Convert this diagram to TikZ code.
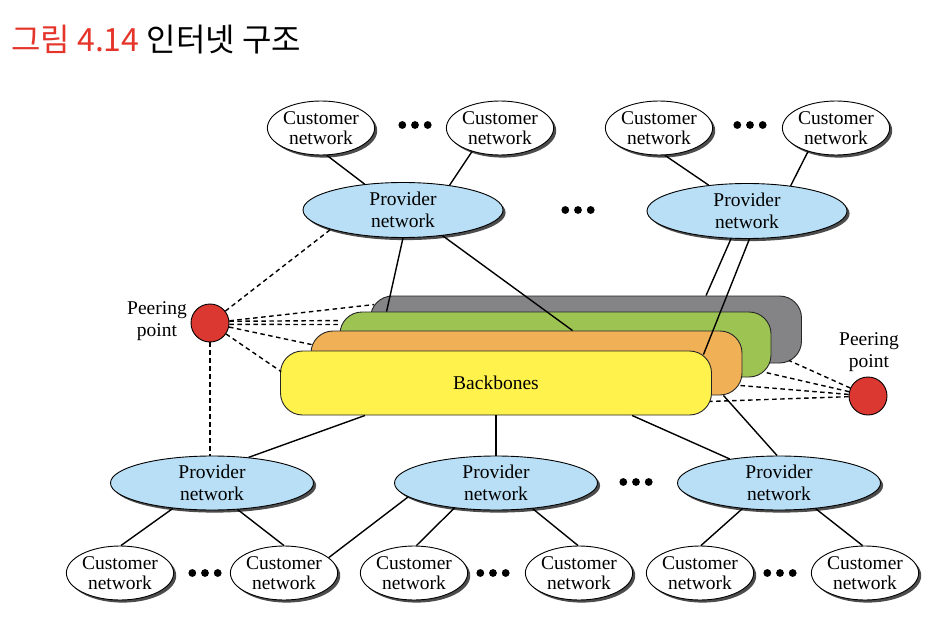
\documentclass[tikz,border=0pt]{standalone}
\usepackage{fontspec}
\setmainfont{Liberation Serif}
\newfontfamily\cjk{Noto Sans CJK KR}
\usetikzlibrary{shapes.geometric,shadows,calc}
\definecolor{provblue}{HTML}{B8DFF6}
\definecolor{bbgray}{HTML}{848486}
\definecolor{bbgreen}{HTML}{9DC453}
\definecolor{bborange}{HTML}{F0B156}
\definecolor{bbyellow}{HTML}{FFF24D}
\definecolor{peerred}{HTML}{DC3832}
\definecolor{titlered}{HTML}{E5352A}
\begin{document}
\begin{tikzpicture}[x=1pt,y=-1pt,
  netshadow/.style={drop shadow={shadow xshift=2.6pt,shadow yshift=-2.6pt,fill=black!70,opacity=1}},
  cust/.style={ellipse,draw=black,line width=0.9pt,fill=white,minimum width=105pt,minimum height=54pt,
    inner sep=0pt,align=center,font=\fontsize{19.5}{20}\selectfont,netshadow},
  prov/.style={ellipse,draw=black,line width=0.9pt,fill=provblue,minimum width=200pt,minimum height=55pt,
    inner sep=0pt,align=center,font=\fontsize{19.5}{22}\selectfont,netshadow},
  bb/.style={rectangle,rounded corners=22pt,draw=black!85,line width=0.9pt,minimum width=431pt,
    minimum height=64pt,inner sep=0pt,font=\fontsize{19.5}{22}\selectfont},
  peer/.style={circle,draw=black,line width=0.9pt,fill=peerred,minimum size=38pt,inner sep=0pt},
  lbl/.style={align=center,font=\fontsize{19.5}{22}\selectfont,inner sep=0pt},
  conn/.style={line width=1.4pt,black},
  pdash/.style={line width=1.4pt,black,dash pattern=on 4.5pt off 3.5pt}]
\useasboundingbox (0,0) rectangle (948,626);

% title
\node[anchor=west,inner sep=0pt,font=\cjk\fontsize{32}{32}\selectfont] (title) at (11,40)
  {\textcolor{titlered}{그림 4.14} 인터넷 구조};

% top customers and providers
\node[cust] (c1) at (321,128) {Customer\\network};
\node[cust] (c2) at (500,128) {Customer\\network};
\node[cust] (c3) at (659,128) {Customer\\network};
\node[cust] (c4) at (836,128) {Customer\\network};
\node[prov] (p1) at (403,210) {Provider\\network};
\node[prov] (p2) at (747,211) {Provider\\network};

% bottom providers and customers
\node[prov,minimum width=203pt,minimum height=54pt] (pb1) at (212,483) {Provider\\network};
\node[prov,minimum width=203pt,minimum height=54pt] (pb2) at (496,483) {Provider\\network};
\node[prov,minimum width=203pt,minimum height=54pt] (pb3) at (779,483) {Provider\\network};
\node[cust] (cb1) at (120,573) {Customer\\network};
\node[cust] (cb2) at (284,573) {Customer\\network};
\node[cust] (cb3) at (414,573) {Customer\\network};
\node[cust] (cb4) at (579,573) {Customer\\network};
\node[cust] (cb5) at (700,573) {Customer\\network};
\node[cust] (cb6) at (865,573) {Customer\\network};

% peering points
\node[peer] (pl) at (210,323) {};
\node[lbl] (pllbl) at (157,321) {Peering\\point};
\node[peer] (pr) at (868,396) {};
\node[lbl] (prlbl) at (869,352) {Peering\\point};

% dots
\foreach \cx/\cy in {415/125,750/125,578/210,636/482,205/573,493/573,780/573}{
  \foreach \d in {-12.7,0,12.7}{\fill ($(\cx,\cy)+(\d,0)$) circle (3.9pt);}
}

% top connectors
\draw[conn] (c1.-78) -- (p1.146);
\draw[conn] (c2.-140) -- (p1.28);
\draw[conn] (c3.-78) -- (p2.146);
\draw[conn] (c4.-140) -- (p2.30);
\draw[pdash] (pl) -- (p1.-165);
\draw[pdash] (pl) -- (pl |- pb1.north);

% backbones, back to front
\node[bb,fill=bbgray,minimum height=67pt] (gray) at (586,329.5) {};
\draw[conn] (p2.-120) -- ($(gray.north west)+(336,0)$);
\draw[pdash] (pl) -- ($(gray.north west)+(4,9)$);
\draw[pdash] (pr) -- ($(gray.south east)+(-13,-3)$);

\node[bb,fill=bbgreen,minimum height=65pt] (green) at (555.5,344.5) {};
\draw[conn] (p1.-90) -- ($(green.north west)+(47,0)$);
\draw[pdash] (pl.5) -- ($(green.north west)+(1,9)$);
\draw[pdash] (pl.-4) -- ($(green.north west)+(0,13)$);
\draw[pdash] (pr) -- ($(green.south east)+(-6,-5)$);

\node[bb,fill=bborange] (orange) at (526.5,363) {};
\draw[conn] (p1.-33) -- ($(orange.north west)+(262,0)$);
\draw[pdash] (pl) -- ($(orange.north west)+(1,14)$);
\draw[pdash] (pr) -- ($(orange.south east)+(-3,-10)$);
\draw[conn] (p2.-85) -- ($(orange.north east)+(-39,24)$);
\draw[conn] ($(orange.south east)+(-19,0)$) -- (pb3.94);

\node[bb,fill=bbyellow] (yellow) at (496,383) {Backbones};
\draw[pdash] (pl) -- ($(yellow.north west)+(1,21)$);
\draw[pdash] (pr) -- ($(yellow.south east)+(-2,-14)$);
\draw[conn] ($(yellow.south west)+(85,0)$) -- (pb1.35);
\draw[conn] (yellow.south) -- (pb2.north);
\draw[conn] ($(yellow.south west)+(352,0)$) -- (pb3.154);

% bottom connectors
\draw[conn] (pb1.-147) -- (cb1.88);
\draw[conn] (pb1.-46) -- (cb2.90);
\draw[conn] (pb2.-171) -- (cb2.19);
\draw[conn] (pb2.-149) -- (cb3.85);
\draw[conn] (pb2.-35) -- (cb4.92);
\draw[conn] (pb3.-145) -- (cb5.88);
\draw[conn] (pb3.-35) -- (cb6.95);
\end{tikzpicture}
\end{document}
